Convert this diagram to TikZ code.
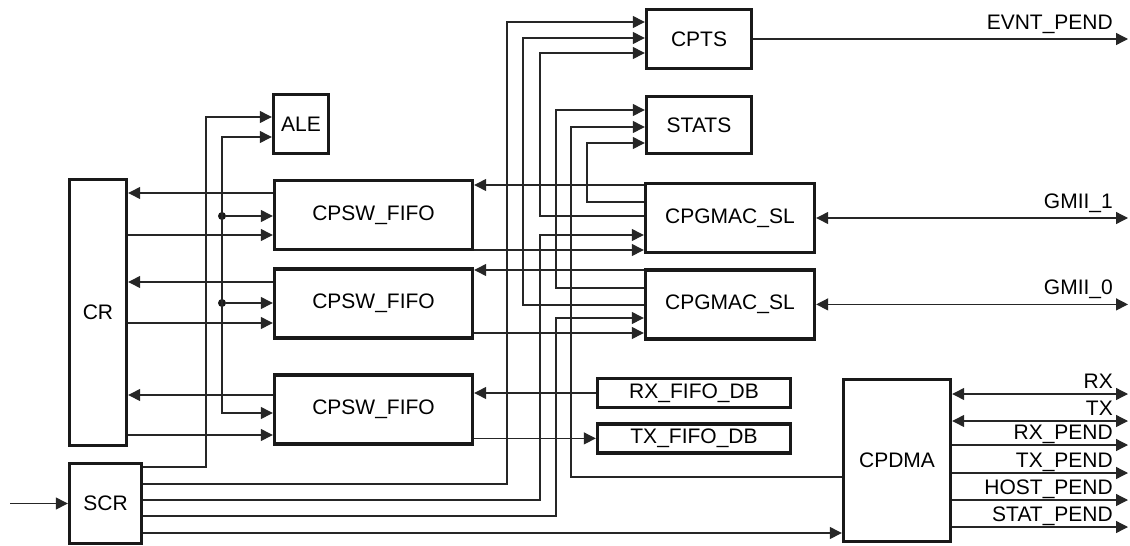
\documentclass[tikz,border=0pt]{standalone}
\usepackage{fontspec}
\setmainfont{Liberation Sans}
\usetikzlibrary{arrows.meta, positioning}

\begin{document}
\begin{tikzpicture}[
    x=1pt, y=-1pt,
    node distance = 16pt and 20pt,
    % styles des blocs
    blk/.style  = {rectangle, draw=black!90, line width=3.4pt, inner sep=0pt,
                   align=center, font=\fontsize{21}{25}\selectfont},
    fifo/.style = {blk, minimum width=198pt, minimum height=69pt},
    mac/.style  = {blk, minimum width=169pt, minimum height=69pt},
    db/.style   = {blk, minimum width=193pt, minimum height=29pt},
    lbl/.style  = {inner sep=0pt, anchor=base east, font=\fontsize{21}{25}\selectfont},
    jdot/.style = {circle, fill=black!90, inner sep=0pt, minimum size=8pt},
    % styles des fils
    wire/.style = {line width=1.3pt, black!85},
    arr/.style  = {wire, -{Triangle[length=12pt, width=12pt]}},
    arrb/.style = {wire, {Triangle[length=12pt, width=12pt]}-{Triangle[length=12pt, width=12pt]}},
]
\useasboundingbox (0,0) rectangle (1130,546);

% ── Colonne gauche : CR, SCR, ALE ─────────────────────────────────────────────
\node[blk, minimum width=57pt, minimum height=266pt] (cr)  at (98,312.5)  {CR};
\node[blk, minimum width=72pt, minimum height=80pt]  (scr) at (105.5,503.5) {SCR};
\node[blk, minimum width=55pt, minimum height=59pt]  (ale) at (301,124)   {ALE};

% ── Colonne 2 : FIFOs ─────────────────────────────────────────────────────────
\node[fifo] (fifo1) at (373.5,215) {CPSW\_FIFO};
\node[fifo, below=of fifo1] (fifo2) {CPSW\_FIFO};
\node[fifo] (fifo3) at (373.5,409.5) {CPSW\_FIFO};

% ── Colonne 3 : CPTS, STATS, MAC, tampons ─────────────────────────────────────
\node[blk, minimum width=105pt, minimum height=59pt] (cpts)  at (699,39)  {CPTS};
\node[blk, minimum width=105pt, minimum height=57pt] (stats) at (699,125) {STATS};
\node[mac] (mac1) at (730,218) {CPGMAC\_SL};
\node[mac, below=14pt of mac1] (mac2) {CPGMAC\_SL};
\node[db] (rxdb) at (694,393) {RX\_FIFO\_DB};
\node[db, below=13pt of rxdb] (txdb) {TX\_FIFO\_DB};

% ── Colonne 4 : DMA ───────────────────────────────────────────────────────────
\node[blk, minimum width=107pt, minimum height=162pt] (cpdma) at (897,460.5) {CPDMA};

\coordinate (in)  at (10,503.5);
\coordinate (rim) at (1128,0);

% ── CR <-> FIFOs ──────────────────────────────────────────────────────────────
\foreach \f/\yo/\yi in {fifo1/193/235, fifo2/282/323, fifo3/395/435} {
    \draw[arr] (\f.west |- 0,\yo) -- (cr.east |- 0,\yo);
    \draw[arr] (cr.east |- 0,\yi) -- (\f.west |- 0,\yi);
}

% bus commun vers ALE et FIFOs
\node[jdot] (j1) at (222,216) {};
\node[jdot] (j2) at (222,303) {};
\draw[arrb] (ale.west |- 0,137) -| (222,413) -- (fifo3.west |- 0,413);
\draw[arr] (j1) -- (fifo1.west |- j1);
\draw[arr] (j2) -- (fifo2.west |- j2);

% ── Sorties SCR ───────────────────────────────────────────────────────────────
\draw[arr] (in) -- (scr.west);
\draw[arr] (scr.east |- 0,467) -| (206,117) -- (ale.west |- 0,117);
\draw[arr] (scr.east |- 0,484) -| (507,22)  -- (cpts.west |- 0,22);
\draw[arr] (scr.east |- 0,500) -| (540,235) -- (mac1.west |- 0,235);
\draw[arr] (scr.east |- 0,516) -| (556,318) -- (mac2.west |- 0,318);
\draw[arr] (scr.east |- 0,533) -- (cpdma.west |- 0,533);

% ── FIFOs <-> MAC, tampons ────────────────────────────────────────────────────
\draw[arr] (mac1.west |- 0,185) -- (fifo1.east |- 0,185);
\draw[arr] (fifo1.east |- 0,250) -- (mac1.west |- 0,250);
\draw[arr] (mac2.west |- 0,270) -- (fifo2.east |- 0,270);
\draw[arr] (fifo2.east |- 0,333) -- (mac2.west |- 0,333);
\draw[arr] (rxdb) -- (fifo3.east |- rxdb);
\draw[arr] (fifo3.east |- txdb) -- (txdb);

% ── Vers CPTS et STATS ────────────────────────────────────────────────────────
\draw[arr] (mac2.west |- 0,305) -| (523,38)  -- (cpts.west |- 0,38);
\draw[arr] (mac1.west |- 0,216) -| (540,53)  -- (cpts.west |- 0,53);
\draw[arr] (mac2.west |- 0,288) -| (556,110) -- (stats.west |- 0,110);
\draw[arr] (cpdma.west |- 0,477) -| (571,127) -- (stats.west |- 0,127);
\draw[arr] (mac1.west |- 0,202) -| (587,143) -- (stats.west |- 0,143);

% ── Sorties droite ────────────────────────────────────────────────────────────
\draw[arr]  (cpts.east) -- (rim |- cpts.east);
\node[lbl] at (1113,29) {EVNT\_PEND};
\draw[arrb] (mac1.east) -- (rim |- mac1.east);
\node[lbl] at (1113,208) {GMII\_1};
\draw[arrb] (mac2.east) -- (rim |- mac2.east);
\node[lbl] at (1113,294) {GMII\_0};

\foreach \yy/\txt in {394/RX, 421/TX} {
    \draw[arrb] (cpdma.east |- 0,\yy) -- (rim |- 0,\yy);
    \node[lbl] at (1113,\yy-5.5) {\txt};
}
\foreach \yy/\txt in {445/RX\_PEND, 473/TX\_PEND, 500/HOST\_PEND, 527/STAT\_PEND} {
    \draw[arr] (cpdma.east |- 0,\yy) -- (rim |- 0,\yy);
    \node[lbl] at (1113,\yy-5.5) {\txt};
}

\end{tikzpicture}
\end{document}
